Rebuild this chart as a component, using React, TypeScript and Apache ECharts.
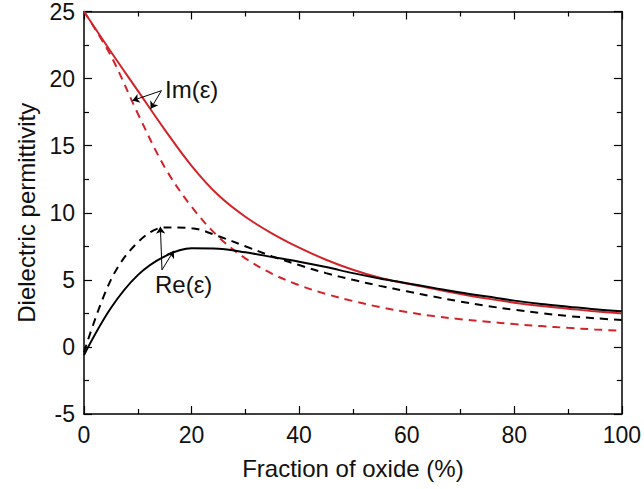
import React, { useEffect, useRef } from "react";
import * as echarts from "echarts";

// Fraction of oxide (%)
const fraction = [0, 5, 10, 15, 20, 25, 30, 35, 40, 45, 50, 55, 60, 65, 70, 75, 80, 85, 90, 95, 100];
// Im(eps), solid red
const imSolid = [25.0, 22.0, 19.1, 16.2, 13.5, 11.3, 9.7, 8.45, 7.4, 6.5, 5.75, 5.15, 4.72, 4.33, 3.95, 3.6, 3.3, 3.05, 2.85, 2.65, 2.5];
// Im(eps), dashed red
const imDashed = [25.0, 21.7, 17.4, 13.4, 10.45, 8.2, 6.6, 5.45, 4.6, 3.95, 3.42, 2.97, 2.6, 2.3, 2.07, 1.88, 1.7, 1.55, 1.42, 1.3, 1.2];
// Re(eps), solid black
const reSolid = [-0.6, 2.9, 5.35, 6.75, 7.35, 7.32, 7.05, 6.7, 6.35, 5.95, 5.5, 5.1, 4.75, 4.4, 4.05, 3.75, 3.45, 3.2, 3.0, 2.8, 2.65];
// Re(eps), dashed black
const reDashed = [-0.4, 5.0, 7.8, 8.9, 8.85, 8.25, 7.5, 6.75, 6.1, 5.5, 5.0, 4.55, 4.15, 3.75, 3.38, 3.05, 2.77, 2.52, 2.3, 2.14, 2.0];

// Annotation arrows (data coordinates): [from, to]
const imArrows = [
  [[14.4, 19.1], [9.0, 18.36]],
  [[14.4, 19.1], [12.4, 17.75]],
];
const reArrows = [
  [[14.5, 5.74], [14.2, 8.96]],
  [[14.5, 5.74], [16.7, 7.17]],
];

const RED = "#d3232a";
const FONT = "'Liberation Sans', Arial, Helvetica, sans-serif";

export default function App() {
  const ref = useRef<HTMLDivElement>(null);
  useEffect(() => {
    const chart = echarts.init(ref.current!, null, { renderer: "svg" });
    const pair = (vals: number[]) => fraction.map((x, i) => [x, vals[i]]);
    const lineStyleAxis = { color: "#000", width: 1.5 };
    const tickStyle = { color: "#000", width: 1.2 };
    const xBase = {
      type: "value",
      min: 0,
      max: 100,
      interval: 20,
      splitLine: { show: false },
      axisLine: { show: true, onZero: false, lineStyle: lineStyleAxis },
      axisTick: { show: true, inside: true, length: 8, lineStyle: tickStyle },
      minorTick: { show: true, splitNumber: 2, length: 5, lineStyle: tickStyle },
    };
    const yBase = {
      type: "value",
      min: -5,
      max: 25,
      interval: 5,
      splitLine: { show: false },
      axisLine: { show: true, onZero: false, lineStyle: lineStyleAxis },
      axisTick: { show: true, inside: true, length: 8, lineStyle: tickStyle },
      minorTick: { show: true, splitNumber: 2, length: 5, lineStyle: tickStyle },
    };
    const arrowLines = (arr: number[][][]) =>
      arr.map((a) => [{ coord: a[0] }, { coord: a[1] }]);
    chart.setOption({
      animation: false,
      backgroundColor: "#fff",
      grid: { left: 84, right: 16, top: 11, bottom: 75, containLabel: false },
      xAxis: [
        {
          ...xBase,
          position: "bottom",
          name: "Fraction of oxide (%)",
          nameLocation: "middle",
          nameGap: 42,
          nameTextStyle: { fontSize: 24, color: "#111", fontFamily: FONT },
          axisLabel: { fontSize: 23, color: "#111", margin: 9, fontFamily: FONT },
        },
        { ...xBase, position: "top", axisLabel: { show: false } },
      ],
      yAxis: [
        {
          ...yBase,
          position: "left",
          name: "Dielectric permittivity",
          nameLocation: "middle",
          nameGap: 45,
          nameTextStyle: { fontSize: 24, color: "#111", fontFamily: FONT },
          axisLabel: { fontSize: 23, color: "#111", margin: 9, fontFamily: FONT },
        },
        { ...yBase, position: "right", axisLabel: { show: false } },
      ],
      series: [
        {
          type: "line",
          name: "Im solid",
          data: pair(imSolid),
          smooth: 0.35,
          showSymbol: false,
          lineStyle: { color: RED, width: 2 },
          markLine: {
            silent: true,
            symbol: ["none", "arrow"],
            symbolSize: 7,
            label: { show: false },
            lineStyle: { color: "#000", width: 1, type: "solid" },
            data: arrowLines(imArrows),
          },
        },
        {
          type: "line",
          name: "Im dashed",
          data: pair(imDashed),
          smooth: 0.35,
          showSymbol: false,
          lineStyle: { color: RED, width: 2, type: [8, 6] },
        },
        {
          type: "line",
          name: "Re solid",
          data: pair(reSolid),
          smooth: 0.35,
          showSymbol: false,
          lineStyle: { color: "#000", width: 2 },
          markLine: {
            silent: true,
            symbol: ["none", "arrow"],
            symbolSize: 7,
            label: { show: false },
            lineStyle: { color: "#000", width: 1, type: "solid" },
            data: arrowLines(reArrows),
          },
        },
        {
          type: "line",
          name: "Re dashed",
          data: pair(reDashed),
          smooth: 0.35,
          showSymbol: false,
          lineStyle: { color: "#000", width: 2, type: [8, 6] },
        },
      ],
      graphic: [
        {
          type: "text",
          left: 165,
          top: 77,
          style: { text: "Im(ε)", fontSize: 24, fill: "#111", fontFamily: FONT },
        },
        {
          type: "text",
          left: 155,
          top: 272,
          style: { text: "Re(ε)", fontSize: 24, fill: "#111", fontFamily: FONT },
        },
      ],
    });
    return () => chart.dispose();
  }, []);
  return (
    <div
      ref={ref}
      style={{ position: "fixed", left: 0, top: 0, width: 644, height: 489 }}
    />
  );
}
